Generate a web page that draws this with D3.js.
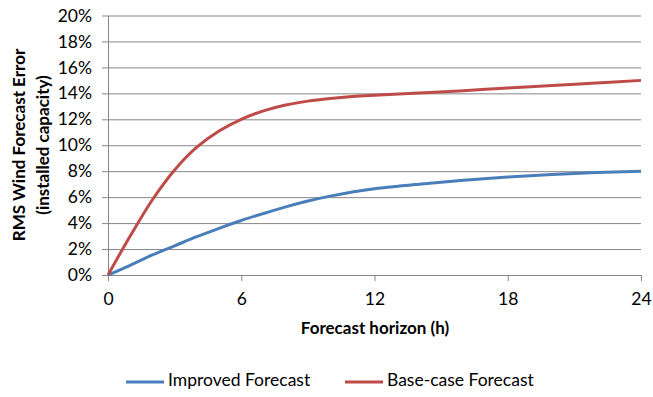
<!DOCTYPE html>
<html>
<head>
<meta charset="utf-8">
<script src="https://cdn.jsdelivr.net/npm/d3@7"></script>
<style>
  body { margin: 0; background: #fff; }
  text { font-family: Lato, "Open Sans", sans-serif; fill: #000; }
</style>
</head>
<body>
<svg id="chart" width="653" height="397"></svg>
<script>
// data (percent of installed capacity)
var hours    = [0, 1, 2, 3, 4, 5, 6, 7, 8, 9, 10, 11, 12, 14, 16, 18, 20, 22, 24]
var improved = [0, 0.75, 1.55, 2.25, 2.95, 3.6, 4.2, 4.74, 5.25, 5.7, 6.08, 6.4, 6.65, 7.0, 7.3, 7.55, 7.75, 7.9, 8.0]
var basecase = [0, 3.0, 5.8, 8.1, 9.85, 11.1, 12.0, 12.65, 13.1, 13.4, 13.6, 13.75, 13.85, 14.02, 14.2, 14.42, 14.6, 14.8, 15.0]
var xTicks = [0, 6, 12, 18, 24]
var yTicks = [0, 2, 4, 6, 8, 10, 12, 14, 16, 18, 20]
var seriesNames = ["Improved Forecast", "Base-case Forecast"]
var colors = ["#4a7ebb", "#be4b48"]

var svg = d3.select("#chart")

var x = d3.scaleLinear().domain([0, 24]).range([108, 641])
var y = d3.scaleLinear().domain([0, 20]).range([275, 15.5])

// gridlines + y axis
svg.append("g")
  .attr("transform", "translate(108,0)")
  .call(d3.axisLeft(y).tickValues(yTicks).tickSize(-533).tickSizeOuter(0).tickFormat(function(d){ return d + "%" }))
  .call(function(g){
    g.select(".domain").attr("stroke", "#868686")
    g.selectAll(".tick line").attr("stroke", "#868686").attr("x1", -6)
    g.selectAll(".tick text").attr("x", -16).attr("font-size", "17.5px").attr("fill", "#000")
  })

// x axis
svg.append("g")
  .attr("transform", "translate(0,275)")
  .call(d3.axisBottom(x).tickValues(xTicks).tickSize(6).tickSizeOuter(0))
  .call(function(g){
    g.select(".domain").attr("stroke", "#868686")
    g.selectAll(".tick line").attr("stroke", "#868686")
    g.selectAll(".tick text").attr("y", 18).attr("font-size", "17.5px").attr("fill", "#000")
  })
svg.selectAll(".tick text").style("font-family", "Lato, 'Open Sans', sans-serif")

var line = d3.line()
  .x(function(d){ return x(d[0]) })
  .y(function(d){ return y(d[1]) })
  .curve(d3.curveCatmullRom.alpha(0.5))

var series = [improved, basecase]
series.forEach(function(vals, i){
  svg.append("path")
    .datum(hours.map(function(h, j){ return [h, vals[j]] }))
    .attr("d", line)
    .attr("fill", "none")
    .attr("stroke", colors[i])
    .attr("stroke-width", 3)
})

// axis titles
svg.append("text").attr("x", 375).attr("y", 334).attr("text-anchor", "middle")
  .attr("font-weight", "bold").style("font-size", "17px").text("Forecast horizon (h)")

svg.append("text").attr("transform", "translate(25,145) rotate(-90)").attr("text-anchor", "middle")
  .attr("font-weight", "bold").style("font-size", "17px").text("RMS Wind Forecast Error")
svg.append("text").attr("transform", "translate(49,145) rotate(-90)").attr("text-anchor", "middle")
  .attr("font-weight", "bold").style("font-size", "17px").text("(installed capacity)")

// legend
var legX = [126, 345]
seriesNames.forEach(function(name, i){
  svg.append("line").attr("x1", legX[i]).attr("x2", legX[i] + 38).attr("y1", 382).attr("y2", 382)
    .attr("stroke", colors[i]).attr("stroke-width", 3)
  svg.append("text").attr("x", legX[i] + 42).attr("y", 382).attr("dominant-baseline", "middle")
    .style("font-size", "17.5px").text(name)
})
</script>
</body>
</html>
